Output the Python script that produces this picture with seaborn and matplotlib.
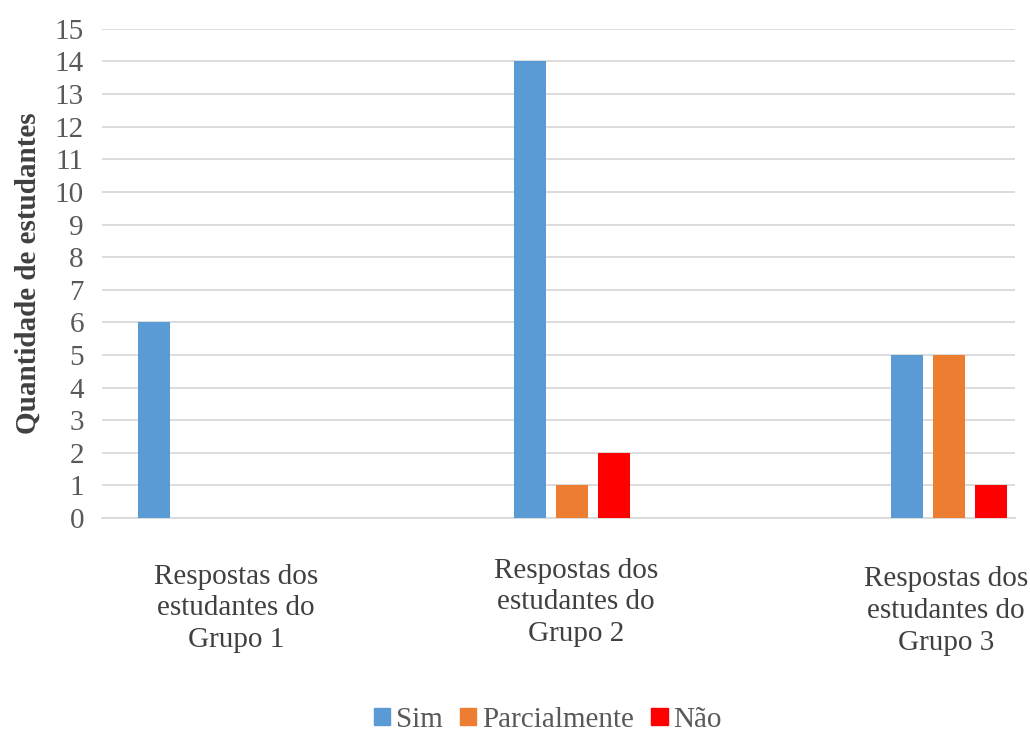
import matplotlib
matplotlib.use("Agg")
import matplotlib.pyplot as plt
import seaborn as sns
import pandas as pd

categories = ["Respostas dos\nestudantes do\nGrupo 1",
              "Respostas dos\nestudantes do\nGrupo 2",
              "Respostas dos\nestudantes do\nGrupo 3"]
series = ["Sim", "Parcialmente", "Não"]
sim = [6, 14, 5]
parcialmente = [0, 1, 5]
nao = [0, 2, 1]
yticks = list(range(0, 16))
colors = ["#5B9BD5", "#ED7D31", "#FF0000"]

rows = []
for name, vals in zip(series, [sim, parcialmente, nao]):
    for c, v in zip(categories, vals):
        rows.append({"cat": c, "serie": name, "valor": v})
df = pd.DataFrame(rows)

sns.set_theme(style="white")
plt.rcParams["font.family"] = ["Liberation Serif", "DejaVu Serif"]

fig = plt.figure(figsize=(10.3, 7.4), dpi=100)
ax = fig.add_axes([0.099, 0.30, 0.886, 0.661])

sns.barplot(data=df, x="cat", y="valor", hue="serie", hue_order=series,
            palette=colors, width=0.335, gap=0.24, ax=ax, legend=False,
            saturation=1, linewidth=0, zorder=3)

ax.set_ylim(0, 15)
ax.set_xlim(-0.25, 2.175)
ax.set_yticks(yticks)
ax.set_yticklabels([str(t) for t in yticks], fontsize=21, color="#595959")
ax.tick_params(axis="y", length=0, pad=13)
ax.yaxis.grid(True, color="#d9d9d9", linewidth=1.3, zorder=0)
ax.set_axisbelow(True)
for s in ["top", "right", "left"]:
    ax.spines[s].set_visible(False)
ax.spines["bottom"].set_color("#d9d9d9")
ax.spines["bottom"].set_linewidth(1.3)
ax.spines["bottom"].set_zorder(1)

ax.set_xticks(range(len(categories)))
ax.set_xticklabels([])
ax.tick_params(axis="x", length=0)
ax.set_xlabel("")
ax.set_ylabel("Quantidade de estudantes", fontsize=21, fontweight="bold",
              color="#404040", labelpad=9)

label_dx = [0.106, 0.009, -0.008]
label_dy = [-0.185, -0.172, -0.190]
trans = ax.get_xaxis_transform()
for i, c in enumerate(categories):
    ax.text(i + label_dx[i], label_dy[i], c, transform=trans, ha="center",
            va="center", fontsize=21, color="#404040", linespacing=1.28,
            multialignment="center")

handles = [plt.Rectangle((0, 0), 1, 1, color=col) for col in colors]
fig.legend(handles, series, loc="lower center", bbox_to_anchor=(0.532, -0.026),
           ncol=3, frameon=False, fontsize=21, handlelength=0.55,
           handleheight=0.55, handletextpad=0.2, columnspacing=0.6,
           labelcolor="#595959")

fig.savefig("out.png", dpi=100, facecolor="white")
